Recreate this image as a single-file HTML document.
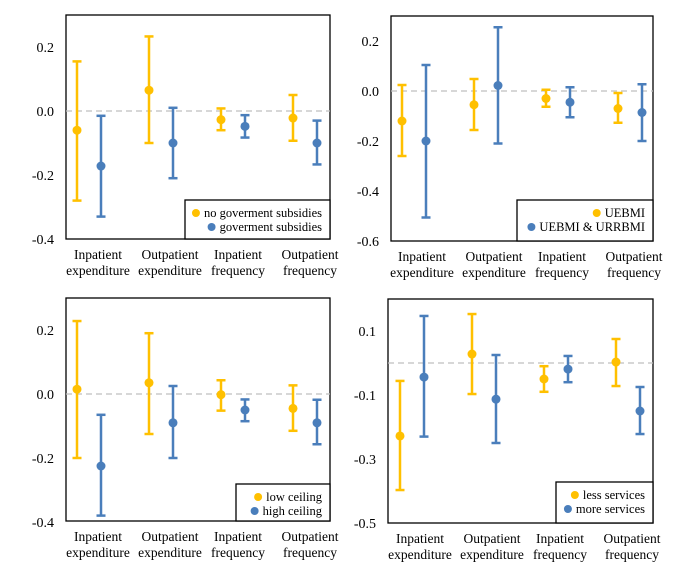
<!DOCTYPE html>
<html><head><meta charset="utf-8"><style>
body{margin:0;background:#fff;}
svg{display:block;font-family:"Liberation Serif",serif;}
</style></head><body>
<svg id="chart" width="678" height="571" viewBox="0 0 678 571" xmlns="http://www.w3.org/2000/svg"></svg>
<script>
const categories=["Inpatient|expenditure","Outpatient|expenditure","Inpatient|frequency","Outpatient|frequency"];
// Panel A: government subsidies
const aYellowEst=[-0.06,0.065,-0.027,-0.022];
const aYellowLo=[-0.28,-0.10,-0.06,-0.093];
const aYellowHi=[0.155,0.233,0.008,0.05];
const aBlueEst=[-0.172,-0.10,-0.048,-0.10];
const aBlueLo=[-0.33,-0.21,-0.083,-0.167];
const aBlueHi=[-0.015,0.01,-0.013,-0.03];
const aTicks=[0.2,0.0,-0.2,-0.4];
const aTickLabels=["0.2","0.0","-0.2","-0.4"];
const aLegend=["no goverment  subsidies","goverment  subsidies"];
// Panel B: insurance
const bYellowEst=[-0.12,-0.055,-0.03,-0.07];
const bYellowLo=[-0.26,-0.156,-0.063,-0.127];
const bYellowHi=[0.024,0.048,0.005,-0.008];
const bBlueEst=[-0.2,0.022,-0.045,-0.086];
const bBlueLo=[-0.506,-0.21,-0.105,-0.2];
const bBlueHi=[0.104,0.255,0.015,0.027];
const bTicks=[0.2,0.0,-0.2,-0.4,-0.6];
const bTickLabels=["0.2","0.0","-0.2","-0.4","-0.6"];
const bLegend=["UEBMI","UEBMI & URRBMI"];
// Panel C: ceiling
const cYellowEst=[0.015,0.035,-0.002,-0.045];
const cYellowLo=[-0.20,-0.125,-0.052,-0.115];
const cYellowHi=[0.228,0.19,0.043,0.027];
const cBlueEst=[-0.225,-0.09,-0.05,-0.09];
const cBlueLo=[-0.38,-0.20,-0.085,-0.157];
const cBlueHi=[-0.065,0.025,-0.017,-0.018];
const cTicks=[0.2,0.0,-0.2,-0.4];
const cTickLabels=["0.2","0.0","-0.2","-0.4"];
const cLegend=["low ceiling","high ceiling"];
// Panel D: services
const dYellowEst=[-0.228,0.028,-0.05,0.003];
const dYellowLo=[-0.397,-0.097,-0.09,-0.072];
const dYellowHi=[-0.056,0.153,-0.01,0.075];
const dBlueEst=[-0.044,-0.113,-0.019,-0.15];
const dBlueLo=[-0.23,-0.25,-0.06,-0.222];
const dBlueHi=[0.147,0.025,0.022,-0.075];
const dTicks=[0.1,-0.1,-0.3,-0.5];
const dTickLabels=["0.1","-0.1","-0.3","-0.5"];
const dLegend=["less services","more services"];

const NS="http://www.w3.org/2000/svg";
const svg=document.getElementById('chart');
function mk(tag,attrs,parent){const e=document.createElementNS(NS,tag);for(const k in attrs)e.setAttribute(k,attrs[k]);(parent||svg).appendChild(e);return e;}
const Y="#FFC000",B="#4A7EBB";

function panel(id,g,ye,yl,yh,be,bl,bh,ticks,tickLabels,legend){
  const grp=mk('g',{});
  
  
  const yS=v=>g.y0-(v)*g.ppu;
  const xS=(i,s)=>g.x0+g.step*i+(s?g.off:0);
  const frame=mk('rect',{x:g.left,y:g.top,width:g.right-g.left,height:g.bottom-g.top,fill:'none',stroke:'#000','stroke-width':1.3},grp);
  
  
  const zl=mk('line',{x1:g.left,x2:g.right,y1:yS(0),y2:yS(0),stroke:'#bfbfbf','stroke-width':1.3,'stroke-dasharray':'6,4'},grp);
  
  
  ticks.forEach((t,i)=>{
    const tx=mk('text',{x:g.left-12,y:yS(t)+5,'text-anchor':'end','font-size':14,fill:'#000'},grp);
    tx.textContent=tickLabels[i];
    
    
  });
  categories.forEach((c,i)=>{
    const parts=c.split('|');
    const cx=xS(i,0)+g.off/2+g.labelShift[i];
    parts.forEach((p,j)=>{
      const tx=mk('text',{x:cx,y:g.bottom+20+j*16,'text-anchor':'middle','font-size':13.5,fill:'#000'},grp);
      tx.textContent=p;
      
      
    });
  });
  function series(est,lo,hi,s,col,name){
    est.forEach((v,i)=>{
      const x=xS(i,s);
      const sg=mk('g',{},grp);
      
      
      mk('line',{x1:x,x2:x,y1:yS(hi[i]),y2:yS(lo[i]),stroke:col,'stroke-width':2.5},sg);
      mk('line',{x1:x-4.5,x2:x+4.5,y1:yS(hi[i]),y2:yS(hi[i]),stroke:col,'stroke-width':2.5},sg);
      mk('line',{x1:x-4.5,x2:x+4.5,y1:yS(lo[i]),y2:yS(lo[i]),stroke:col,'stroke-width':2.5},sg);
      mk('circle',{cx:x,cy:yS(v),r:4.5,fill:col},sg);
    });
  }
  series(ye,yl,yh,0,Y,'yellow');
  series(be,bl,bh,1,B,'blue');
  const lg=mk('g',{},grp);
  
  
  mk('rect',{x:g.lx,y:g.ly,width:g.right-g.lx,height:g.bottom-g.ly,fill:'#fff',stroke:'#000','stroke-width':1.3},lg);
  legend.forEach((t,j)=>{
    const yy=g.ly+13+j*14;
    const tx=mk('text',{x:g.right-8,y:yy+4,'text-anchor':'end','font-size':12.5,fill:'#000'},lg);
    tx.textContent=t;
    
    
    const w=tx.getComputedTextLength();
    mk('circle',{cx:g.right-8-w-8,cy:yy,r:4,fill:j?B:Y},lg);
  });
}
panel('panel-subsidies',{left:66,right:330,top:15,bottom:239,y0:111,ppu:320,x0:77,step:72,off:24,labelShift:[9,9,5,5],lx:185,ly:200},aYellowEst,aYellowLo,aYellowHi,aBlueEst,aBlueLo,aBlueHi,aTicks,aTickLabels,aLegend);
panel('panel-insurance',{left:391,right:653,top:16,bottom:241,y0:91,ppu:250,x0:402,step:72,off:24,labelShift:[8,8,4,4],lx:517,ly:200},bYellowEst,bYellowLo,bYellowHi,bBlueEst,bBlueLo,bBlueHi,bTicks,bTickLabels,bLegend);
panel('panel-ceiling',{left:66,right:330,top:298,bottom:521,y0:394,ppu:320,x0:77,step:72,off:24,labelShift:[9,9,5,5],lx:236,ly:484},cYellowEst,cYellowLo,cYellowHi,cBlueEst,cBlueLo,cBlueHi,cTicks,cTickLabels,cLegend);
panel('panel-services',{left:388,right:653,top:299,bottom:523,y0:363,ppu:320,x0:400,step:72,off:24,labelShift:[8,8,4,4],lx:556,ly:482},dYellowEst,dYellowLo,dYellowHi,dBlueEst,dBlueLo,dBlueHi,dTicks,dTickLabels,dLegend);
</script>
</body></html>
